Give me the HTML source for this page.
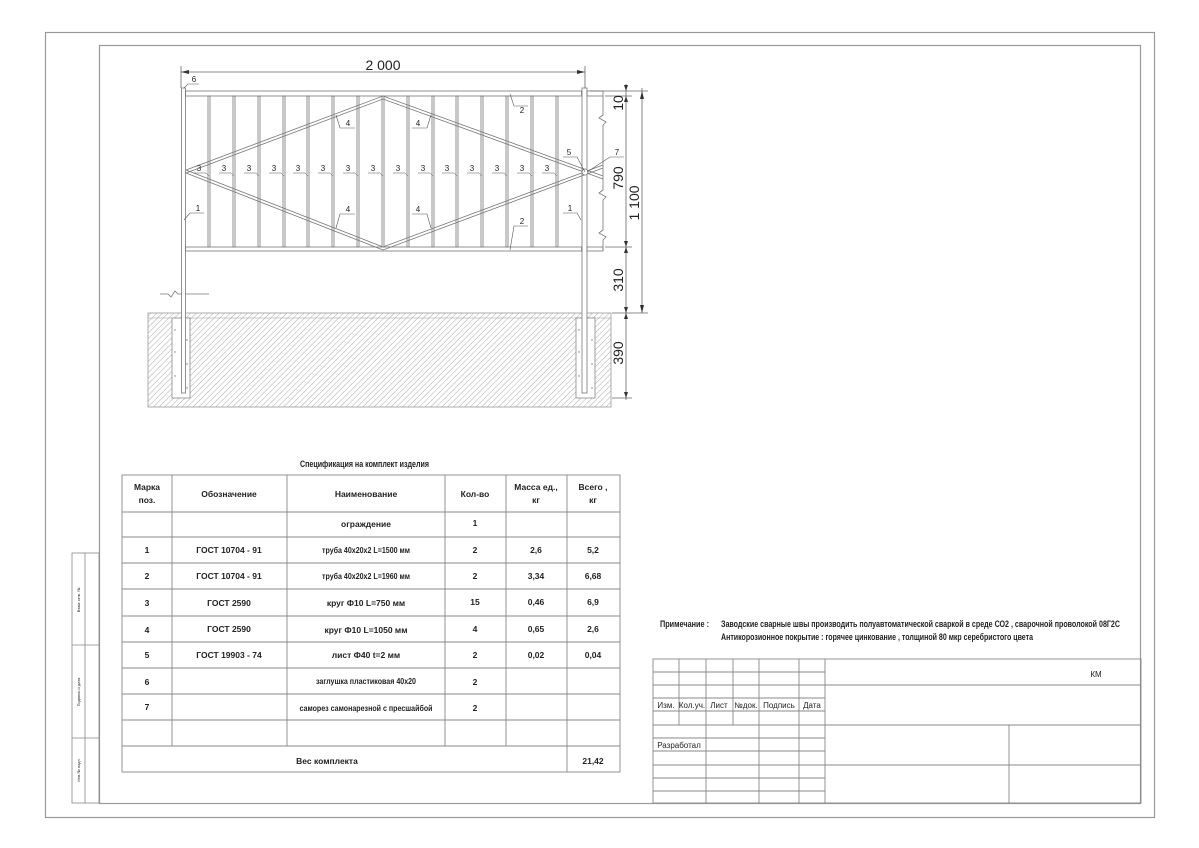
<!DOCTYPE html>
<html><head><meta charset="utf-8"><style>
html,body{margin:0;padding:0;background:#fff;}
svg{display:block;}
text{font-family:"Liberation Sans",sans-serif;fill:#222;}
.t{font-size:9px;font-weight:bold;}
</style></head><body>
<svg width="1199" height="848" viewBox="0 0 1199 848" xmlns="http://www.w3.org/2000/svg">
<defs>
<pattern id="h" width="4" height="4" patternUnits="userSpaceOnUse" patternTransform="rotate(45)">
<line x1="0" y1="0" x2="0" y2="4" stroke="#aaa" stroke-width="1"/>
</pattern>
</defs>
<rect x="45.5" y="32.5" width="1109" height="785" fill="none" stroke="#999" stroke-width="1.2"/>
<rect x="99.5" y="45.5" width="1041" height="758" fill="none" stroke="#999" stroke-width="1.2"/>
<g stroke="#888" stroke-width="0.8" fill="none">
<rect x="72" y="553" width="27" height="250"/>
<line x1="85" y1="553" x2="85" y2="803"/>
<line x1="72" y1="645" x2="99" y2="645"/>
<line x1="72" y1="738" x2="99" y2="738"/>
</g>
<g fill="#666">
<text transform="translate(80,600) rotate(-90)" text-anchor="middle" style="font-size:4px">Взам. инв. №</text>
<text transform="translate(80,692) rotate(-90)" text-anchor="middle" style="font-size:4px">Подпись и дата</text>
<text transform="translate(80,770) rotate(-90)" text-anchor="middle" style="font-size:4px">Инв.№ подл.</text>
</g>

<rect x="148" y="313" width="463" height="94" fill="url(#h)" stroke="#999" stroke-width="0.8"/>
<line x1="148" y1="318" x2="611" y2="318" stroke="#999" stroke-width="0.6"/>
<rect x="172" y="318" width="18" height="80" fill="#fff" stroke="#888" stroke-width="0.8"/>
<rect x="576" y="318" width="19" height="80" fill="#fff" stroke="#888" stroke-width="0.8"/>
<g fill="#777">
<circle cx="175" cy="330" r="0.7"/><circle cx="187" cy="340" r="0.7"/><circle cx="175" cy="352" r="0.7"/><circle cx="187" cy="364" r="0.7"/><circle cx="175" cy="376" r="0.7"/><circle cx="187" cy="388" r="0.7"/>
<circle cx="579" cy="330" r="0.7"/><circle cx="592" cy="340" r="0.7"/><circle cx="579" cy="352" r="0.7"/><circle cx="592" cy="364" r="0.7"/><circle cx="579" cy="376" r="0.7"/><circle cx="592" cy="388" r="0.7"/>
</g>
<polyline points="160,294 168,294 171,297 175,291 178,294 209,294" fill="none" stroke="#777" stroke-width="0.8"/>

<g stroke="#777" stroke-width="0.8" fill="none">
<rect x="181.5" y="88" width="4" height="305" fill="#fff"/>
<rect x="582" y="88" width="5" height="305" fill="#fff"/>
<rect x="185.5" y="91" width="396" height="5"/>
<rect x="587" y="91" width="16" height="5"/>
<rect x="185.5" y="247" width="396" height="4"/>
<rect x="587" y="247" width="16" height="4"/>
<rect x="208" y="96" width="2" height="151"/><rect x="233" y="96" width="2" height="151"/><rect x="258" y="96" width="2" height="151"/><rect x="283" y="96" width="2" height="151"/><rect x="307" y="96" width="2" height="151"/><rect x="332" y="96" width="2" height="151"/><rect x="357" y="96" width="2" height="151"/><rect x="382" y="96" width="2" height="151"/><rect x="407" y="96" width="2" height="151"/><rect x="432" y="96" width="2" height="151"/><rect x="456" y="96" width="2" height="151"/><rect x="481" y="96" width="2" height="151"/><rect x="506" y="96" width="2" height="151"/><rect x="531" y="96" width="2" height="151"/><rect x="556" y="96" width="2" height="151"/>
<polyline points="186,170 383,96 603,176"/>
<polyline points="186,173 383,99 603,179"/>
<polyline points="186,170 383,247 603,165"/>
<polyline points="186,173 383,250 603,168"/>
<polyline points="603,96 603,115 599,118 606,122 603,125 603,190 599,193 606,197 603,200 603,230 599,233 606,237 603,240 603,251"/>
</g>
<circle cx="585" cy="172" r="3" fill="#fff" stroke="#777" stroke-width="0.8"/>

<g stroke="#666" stroke-width="0.8" fill="none">
<line x1="181" y1="72" x2="585" y2="72"/>
<line x1="181" y1="66" x2="181" y2="88"/><line x1="585" y1="66" x2="585" y2="88"/>
<line x1="626" y1="84" x2="626" y2="400"/>
<line x1="642" y1="88" x2="642" y2="313"/>
<line x1="590" y1="91" x2="648" y2="91"/>
<line x1="605" y1="96" x2="632" y2="96"/>
<line x1="605" y1="247" x2="632" y2="247"/>
<line x1="612" y1="313" x2="648" y2="313"/>
<line x1="612" y1="398" x2="632" y2="398"/>
</g>
<g fill="#333">
<polygon points="181,72 189,70 189,74"/><polygon points="585,72 577,70 577,74"/>
<polygon points="642,91 640,99 644,99"/><polygon points="642,313 640,305 644,305"/>
<polygon points="626,91 624,85 628,85"/><polygon points="626,96 624,102 628,102"/>
<polygon points="626,247 624,241 628,241"/><polygon points="626,247 624,253 628,253"/>
<polygon points="626,313 624,307 628,307"/><polygon points="626,313 624,319 628,319"/>
<polygon points="626,398 624,392 628,392"/>
</g>
<text x="383" y="70" text-anchor="middle" font-size="14">2 000</text>
<g font-size="14">
<text transform="translate(623,103) rotate(-90)" text-anchor="middle">10</text>
<text transform="translate(623,178) rotate(-90)" text-anchor="middle">790</text>
<text transform="translate(639,203) rotate(-90)" text-anchor="middle">1 100</text>
<text transform="translate(623,280) rotate(-90)" text-anchor="middle">310</text>
<text transform="translate(623,353) rotate(-90)" text-anchor="middle">390</text>
</g>

<g stroke="#555" stroke-width="0.6" fill="none">
<polyline points="184,88 188,84 199,84"/>
<polyline points="510,94 514,106 528,106"/><polyline points="510,250 514,226 528,226"/>
<polyline points="336,115 340,128 355,128"/><polyline points="431,115 427,128 412,128"/>
<polyline points="336,228 340,214 355,214"/><polyline points="431,228 427,214 412,214"/>
<polyline points="184,220 190,213 204,213"/><polyline points="581,220 577,213 563,213"/>
<polyline points="585,172 577,157 563,157"/><polyline points="587,172 610,157 624,157"/>
</g>
<g font-size="8" text-anchor="middle">
<text x="194" y="82">6</text>
<text x="522" y="113">2</text><text x="522" y="224">2</text>
<text x="348" y="126">4</text><text x="418" y="126">4</text>
<text x="348" y="212">4</text><text x="418" y="212">4</text>
<text x="198" y="211">1</text><text x="570" y="211">1</text>
<text x="569" y="155">5</text><text x="617" y="155">7</text>
</g>
<g font-size="8" text-anchor="middle">
<text x="199" y="171">3</text><text x="224" y="171">3</text><text x="249" y="171">3</text><text x="274" y="171">3</text><text x="298" y="171">3</text><text x="323" y="171">3</text><text x="348" y="171">3</text><text x="373" y="171">3</text><text x="398" y="171">3</text><text x="423" y="171">3</text><text x="447" y="171">3</text><text x="472" y="171">3</text><text x="497" y="171">3</text><text x="522" y="171">3</text><text x="547" y="171">3</text>
</g>
<g stroke="#555" stroke-width="0.5" fill="none">
<polyline points="194,173 206,173 209,176"/><polyline points="219,173 231,173 234,176"/><polyline points="244,173 256,173 259,176"/><polyline points="269,173 281,173 284,176"/><polyline points="293,173 305,173 308,176"/><polyline points="318,173 330,173 333,176"/><polyline points="343,173 355,173 358,176"/><polyline points="368,173 380,173 383,176"/><polyline points="393,173 405,173 408,176"/><polyline points="418,173 430,173 433,176"/><polyline points="442,173 454,173 457,176"/><polyline points="467,173 479,173 482,176"/><polyline points="492,173 504,173 507,176"/><polyline points="517,173 529,173 532,176"/><polyline points="542,173 554,173 557,176"/>
</g>

<text x="300" y="467" class="t" textLength="129" lengthAdjust="spacingAndGlyphs">Спецификация на комплект изделия</text>
<g stroke="#888" stroke-width="0.9" fill="none">
<rect x="122" y="475" width="498" height="297"/>
<line x1="172" y1="475" x2="172" y2="746"/>
<line x1="287" y1="475" x2="287" y2="746"/>
<line x1="445" y1="475" x2="445" y2="746"/>
<line x1="506" y1="475" x2="506" y2="746"/>
<line x1="567" y1="475" x2="567" y2="772"/>
<line x1="122" y1="512" x2="620" y2="512"/>
<line x1="122" y1="537" x2="620" y2="537"/>
<line x1="122" y1="563" x2="620" y2="563"/>
<line x1="122" y1="589" x2="620" y2="589"/>
<line x1="122" y1="616" x2="620" y2="616"/>
<line x1="122" y1="642" x2="620" y2="642"/>
<line x1="122" y1="668" x2="620" y2="668"/>
<line x1="122" y1="694" x2="620" y2="694"/>
<line x1="122" y1="720" x2="620" y2="720"/>
<line x1="122" y1="746" x2="620" y2="746"/>
</g>
<g class="t" text-anchor="middle" style="font-size:8.5px">
<text x="147" y="490">Марка</text><text x="147" y="503">поз.</text>
<text x="229" y="497">Обозначение</text>
<text x="366" y="497">Наименование</text>
<text x="475" y="497">Кол-во</text>
<text x="536" y="490">Масса ед.,</text><text x="536" y="503">кг</text>
<text x="593" y="490">Всего ,</text><text x="593" y="503">кг</text>
<text x="366" y="527">ограждение</text><text x="475" y="526">1</text>
<text x="147" y="553">1</text><text x="229" y="553">ГОСТ 10704 - 91</text><text x="366" y="553" textLength="88" lengthAdjust="spacingAndGlyphs">труба 40х20х2 L=1500 мм</text><text x="475" y="553">2</text><text x="536" y="553">2,6</text><text x="593" y="553">5,2</text>
<text x="147" y="579">2</text><text x="229" y="579">ГОСТ 10704 - 91</text><text x="366" y="579" textLength="88" lengthAdjust="spacingAndGlyphs">труба 40х20х2 L=1960 мм</text><text x="475" y="579">2</text><text x="536" y="579">3,34</text><text x="593" y="579">6,68</text>
<text x="147" y="606">3</text><text x="229" y="606">ГОСТ 2590</text><text x="366" y="606">круг Ф10 L=750 мм</text><text x="475" y="605">15</text><text x="536" y="605">0,46</text><text x="593" y="605">6,9</text>
<text x="147" y="633">4</text><text x="229" y="632">ГОСТ 2590</text><text x="366" y="633">круг Ф10 L=1050 мм</text><text x="475" y="632">4</text><text x="536" y="632">0,65</text><text x="593" y="632">2,6</text>
<text x="147" y="658">5</text><text x="229" y="658">ГОСТ 19903 - 74</text><text x="366" y="658">лист Ф40 t=2 мм</text><text x="475" y="658">2</text><text x="536" y="658">0,02</text><text x="593" y="658">0,04</text>
<text x="147" y="685">6</text><text x="366" y="684" textLength="100" lengthAdjust="spacingAndGlyphs">заглушка пластиковая 40х20</text><text x="475" y="685">2</text>
<text x="147" y="710">7</text><text x="366" y="711" textLength="133" lengthAdjust="spacingAndGlyphs">саморез самонарезной с пресшайбой</text><text x="475" y="711">2</text>
<text x="327" y="764">Вес комплекта</text><text x="593" y="764">21,42</text>
</g>

<g class="t">
<text x="660" y="627" textLength="49" lengthAdjust="spacingAndGlyphs">Примечание :</text>
<text x="721" y="627" textLength="399" lengthAdjust="spacingAndGlyphs">Заводские сварные швы производить полуавтоматической сваркой в среде СО2 , сварочной проволокой 08Г2С</text>
<text x="721" y="640" textLength="312" lengthAdjust="spacingAndGlyphs">Антикорозионное покрытие : горячее цинкование , толщиной 80 мкр серебристого цвета</text>
</g>

<g stroke="#888" stroke-width="0.9" fill="none">
<rect x="653" y="659" width="488" height="144"/>
<line x1="825" y1="659" x2="825" y2="803"/>
<line x1="679" y1="659" x2="679" y2="725"/>
<line x1="706" y1="659" x2="706" y2="803"/>
<line x1="733" y1="659" x2="733" y2="725"/>
<line x1="759" y1="659" x2="759" y2="803"/>
<line x1="799" y1="659" x2="799" y2="803"/>
<line x1="653" y1="672" x2="825" y2="672"/>
<line x1="653" y1="685" x2="1141" y2="685"/>
<line x1="653" y1="698" x2="825" y2="698"/>
<line x1="653" y1="711" x2="825" y2="711"/>
<line x1="653" y1="725" x2="1141" y2="725"/>
<line x1="653" y1="738" x2="825" y2="738"/>
<line x1="653" y1="751" x2="825" y2="751"/>
<line x1="653" y1="765" x2="1141" y2="765"/>
<line x1="653" y1="778" x2="825" y2="778"/>
<line x1="653" y1="791" x2="825" y2="791"/>
<line x1="1009" y1="725" x2="1009" y2="803"/>
</g>
<g font-size="8" text-anchor="middle">
<text x="666" y="708">Изм.</text><text x="692" y="708">Кол.уч.</text><text x="719" y="708">Лист</text><text x="746" y="708">№док.</text><text x="779" y="708">Подпись</text><text x="812" y="708">Дата</text>
<text x="679" y="748">Разработал</text>
<text x="1096" y="677">КМ</text>
</g>
</svg>
</body></html>
